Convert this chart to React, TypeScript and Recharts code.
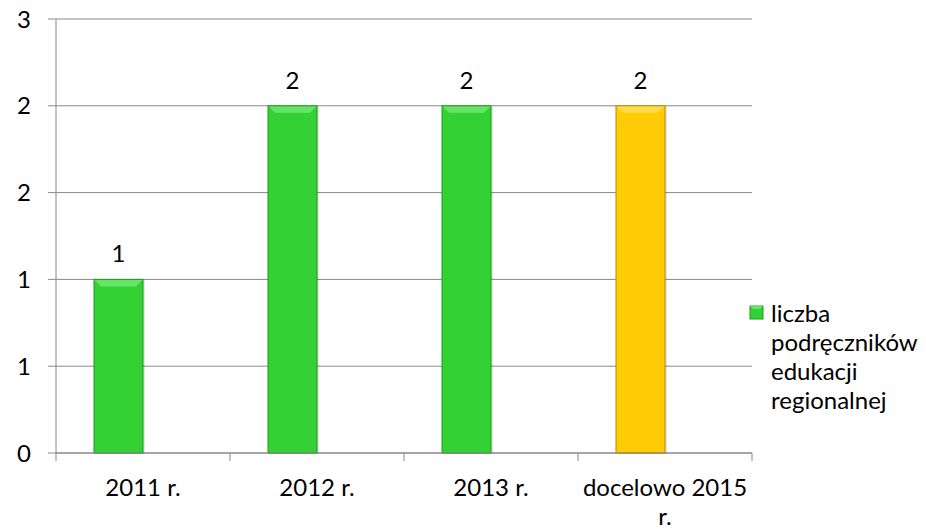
import { Bar, BarChart, CartesianGrid, LabelList, Legend, Text, XAxis, YAxis } from 'recharts'

const CATEGORIES = ['2011 r.', '2012 r.', '2013 r.', 'docelowo 2015 r.']
const VALUES = [1, 2, 2, 2]
const KINDS = ['actual', 'actual', 'actual', 'target']
const Y_TICKS = [0, 0.5, 1, 1.5, 2, 2.5]
const SERIES_NAME = 'liczba podręczników edukacji regionalnej'

const FONT = 'Lato, "Open Sans", sans-serif'
const FONT_SIZE = 24
const GRID = '#888888'

const W = 926
const H = 529
const MARGIN = { top: 19, right: 174, bottom: 0, left: 0 }
const Y_AXIS_W = 56
const X_AXIS_H = 76
const BAND = (W - MARGIN.left - MARGIN.right - Y_AXIS_W) / CATEGORIES.length

const PALETTE: Record<string, { base: string; light: string; dark: string }> = {
  actual: { base: '#33d133', light: '#66e466', dark: '#1f9a1f' },
  target: { base: '#ffcb05', light: '#ffdc4a', dark: '#b88c00' },
}

const data = CATEGORIES.map((category, i) => ({
  category,
  value: VALUES[i],
  kind: KINDS[i],
  spacer: null as number | null,
}))

function BevelBar(props: any) {
  const { x, y, width, height, payload } = props
  if (!height || height <= 0) return null
  const c = PALETTE[payload.kind]
  const b = Math.min(7, height / 4)
  return (
    <g>
      <rect x={x + 2} y={y + 1} width={width} height={height} fill="rgba(0,0,0,0.10)" />
      <rect x={x} y={y} width={width} height={height} fill={c.base} />
      <polygon
        points={`${x},${y} ${x + width},${y} ${x + width - b},${y + b} ${x + b},${y + b}`}
        fill={c.light}
      />
      <rect x={x} y={y} width={width} height={height} fill="none" stroke={c.dark} strokeWidth={1} />
    </g>
  )
}

function CategoryTick(props: any) {
  const { x, y, payload, index } = props
  const left = x - BAND / 2
  const right = x + BAND / 2
  return (
    <g>
      <line x1={left} y1={y} x2={left} y2={y + 8} stroke={GRID} />
      {index === CATEGORIES.length - 1 && (
        <line x1={right} y1={y} x2={right} y2={y + 8} stroke={GRID} />
      )}
      <Text
        x={x}
        y={y + 26}
        width={170}
        textAnchor="middle"
        verticalAnchor="start"
        lineHeight={29}
        style={{ fontFamily: FONT, fontSize: `${FONT_SIZE}px` }}
        fill="#000"
      >
        {payload.value}
      </Text>
    </g>
  )
}

function LegendBox() {
  return (
    <div style={{ display: 'flex', alignItems: 'flex-start', fontFamily: FONT, fontSize: FONT_SIZE }}>
      <svg width={16} height={16} style={{ marginTop: 7, marginRight: 6, flexShrink: 0 }}>
        <rect x={1} y={1} width={13} height={13} fill={PALETTE.actual.base} stroke={PALETTE.actual.dark} />
        <polygon points="1,1 14,1 11,4 4,4" fill={PALETTE.actual.light} />
      </svg>
      <div style={{ width: 152, lineHeight: '29px', color: '#000' }}>{SERIES_NAME}</div>
    </div>
  )
}

export default function App() {
  return (
    <div style={{ position: 'absolute', left: 0, top: 0, width: W, height: H, background: '#fff' }}>
      <BarChart width={W} height={H} data={data} margin={MARGIN} barGap={0} barSize={49}>
        <CartesianGrid stroke={GRID} vertical={false} />
        <XAxis
          dataKey="category"
          stroke={GRID}
          tickLine={false}
          tickSize={0}
          tickMargin={0}
          height={X_AXIS_H}
          interval={0}
          tick={<CategoryTick />}
        />
        <YAxis
          domain={[0, 2.5]}
          ticks={Y_TICKS}
          width={Y_AXIS_W}
          stroke={GRID}
          tickSize={8}
          tickMargin={17}
          tick={{ fill: '#000', fontFamily: FONT, fontSize: FONT_SIZE }}
          tickFormatter={(v: number) => String(Math.round(v))}
        />
        <Legend
          layout="vertical"
          align="center"
          verticalAlign="middle"
          wrapperStyle={{ left: 749, top: 298, width: 177 }}
          content={<LegendBox />}
        />
        <Bar dataKey="value" name={SERIES_NAME} shape={<BevelBar />} isAnimationActive={false}>
          <LabelList
            dataKey="value"
            position="top"
            offset={17}
            style={{ fill: '#000', fontFamily: FONT, fontSize: FONT_SIZE }}
          />
        </Bar>
        <Bar dataKey="spacer" legendType="none" isAnimationActive={false} />
      </BarChart>
    </div>
  )
}
